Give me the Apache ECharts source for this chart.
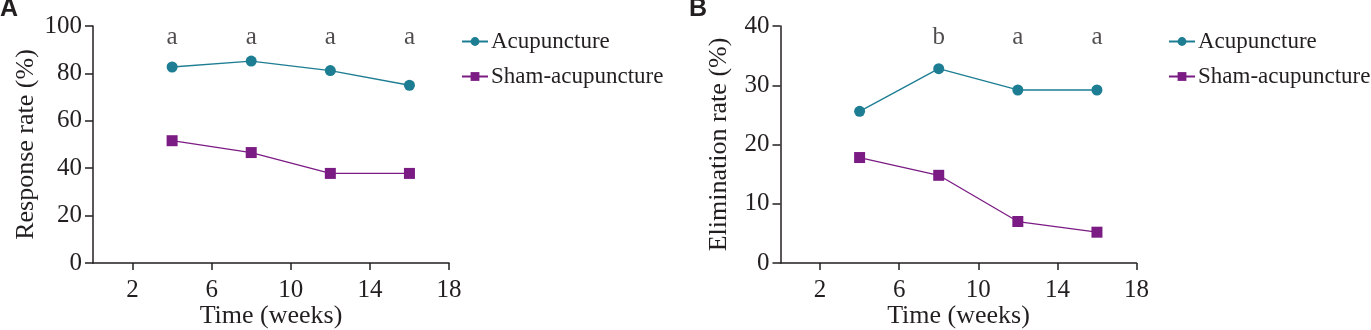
<!DOCTYPE html>
<html><head><meta charset="utf-8">
<script src="https://cdn.jsdelivr.net/npm/echarts@6/dist/echarts.min.js"></script>
<style>html,body{margin:0;padding:0;background:#fff}#c{width:1371px;height:330px}</style>
</head><body><div id="c"></div>
<script>
const weeks = [4, 8, 12, 16];
const xTicks = [2, 6, 10, 14, 18];
const seriesNames = ['Acupuncture', 'Sham-acupuncture'];
const respAcu = [82.7, 85.2, 81.2, 75.0];
const respSham = [51.6, 46.6, 37.8, 37.8];
const elimAcu = [25.6, 32.8, 29.2, 29.2];
const elimSham = [17.8, 14.8, 7.0, 5.2];
const letterA = ['a', 'a', 'a', 'a'];
const letterB = ['', 'b', 'a', 'a'];
const letterYA = 95;
const letterYB = 38;

const FONT = 'Liberation Serif';
const TXT = '#231f20';
const TEAL = '#1d7d92';
const PURP = '#7b1b84';

const chart = echarts.init(document.getElementById('c'));
function xAxis(gi) {
  return {
    gridIndex: gi, type: 'value', min: 0, max: 18,
    name: 'Time (weeks)', nameLocation: 'middle', nameGap: 40, nameMoveOverlap: false,
    nameTextStyle: {fontFamily: FONT, fontSize: 26, color: TXT},
    axisLine: {lineStyle: {color: TXT, width: 1.5}},
    axisTick: {show: true, length: 7, customValues: xTicks, lineStyle: {color: TXT, width: 1.5}},
    axisLabel: {customValues: xTicks, fontFamily: FONT, fontSize: 25, color: TXT, margin: 15},
    splitLine: {show: false}
  };
}
function yAxis(gi, max, interval, name, gap) {
  return {
    gridIndex: gi, type: 'value', min: 0, max: max, interval: interval,
    name: name, nameLocation: 'middle', nameGap: gap, nameRotate: 90,
    nameTextStyle: {fontFamily: FONT, fontSize: 26, color: TXT},
    axisLine: {show: true, lineStyle: {color: TXT, width: 1.5}},
    axisTick: {show: true, length: 8, lineStyle: {color: TXT, width: 1.5}},
    axisLabel: {fontFamily: FONT, fontSize: 25, color: TXT, margin: 11},
    splitLine: {show: false}
  };
}
function lineSeries(gi, name, vals, color, symbol) {
  return {
    type: 'line', name: name, xAxisIndex: gi, yAxisIndex: gi,
    data: weeks.map((w, i) => [w, vals[i]]),
    symbol: symbol, symbolSize: 11, showSymbol: true,
    lineStyle: {color: color, width: 1.3}, itemStyle: {color: color},
    animation: false
  };
}
function letterSeries(gi, letters, yv) {
  return {
    type: 'scatter', xAxisIndex: gi, yAxisIndex: gi, symbolSize: 0, silent: true,
    data: weeks.map((w, i) => ({value: [w, yv], name: letters[i]})),
    label: {show: true, position: 'inside', formatter: p => p.name,
      fontFamily: FONT, fontSize: 25, color: TXT},
    animation: false
  };
}
const legendCommon = {
  orient: 'vertical', itemWidth: 26, itemHeight: 11, itemGap: 12,
  textStyle: {fontFamily: FONT, fontSize: 23, color: TXT, padding: [0, 0, 0, -2]},
  data: seriesNames
};
chart.setOption({
  animation: false,
  grid: [
    {left: 93, top: 26, width: 356, height: 237, outerBoundsMode: 'none', containLabel: false},
    {left: 780.5, top: 26, width: 356, height: 237, outerBoundsMode: 'none', containLabel: false}
  ],
  xAxis: [xAxis(0), xAxis(1)],
  yAxis: [yAxis(0, 100, 20, 'Response rate (%)', 54), yAxis(1, 40, 10, 'Elimination rate (%)', 48)],
  legend: [
    Object.assign({left: 456, top: 25}, legendCommon),
    Object.assign({left: 1163, top: 25}, legendCommon)
  ],
  series: [
    lineSeries(0, seriesNames[0], respAcu, TEAL, 'circle'),
    lineSeries(0, seriesNames[1], respSham, PURP, 'rect'),
    lineSeries(1, seriesNames[0], elimAcu, TEAL, 'circle'),
    lineSeries(1, seriesNames[1], elimSham, PURP, 'rect'),
    letterSeries(0, letterA, letterYA),
    letterSeries(1, letterB, letterYB)
  ],
  graphic: [
    {type: 'text', left: 0, top: -3, style: {text: 'A', font: 'bold 25px "Liberation Sans"', fill: TXT}},
    {type: 'text', left: 689, top: -3, style: {text: 'B', font: 'bold 25px "Liberation Sans"', fill: TXT}}
  ]
});
</script></body></html>
